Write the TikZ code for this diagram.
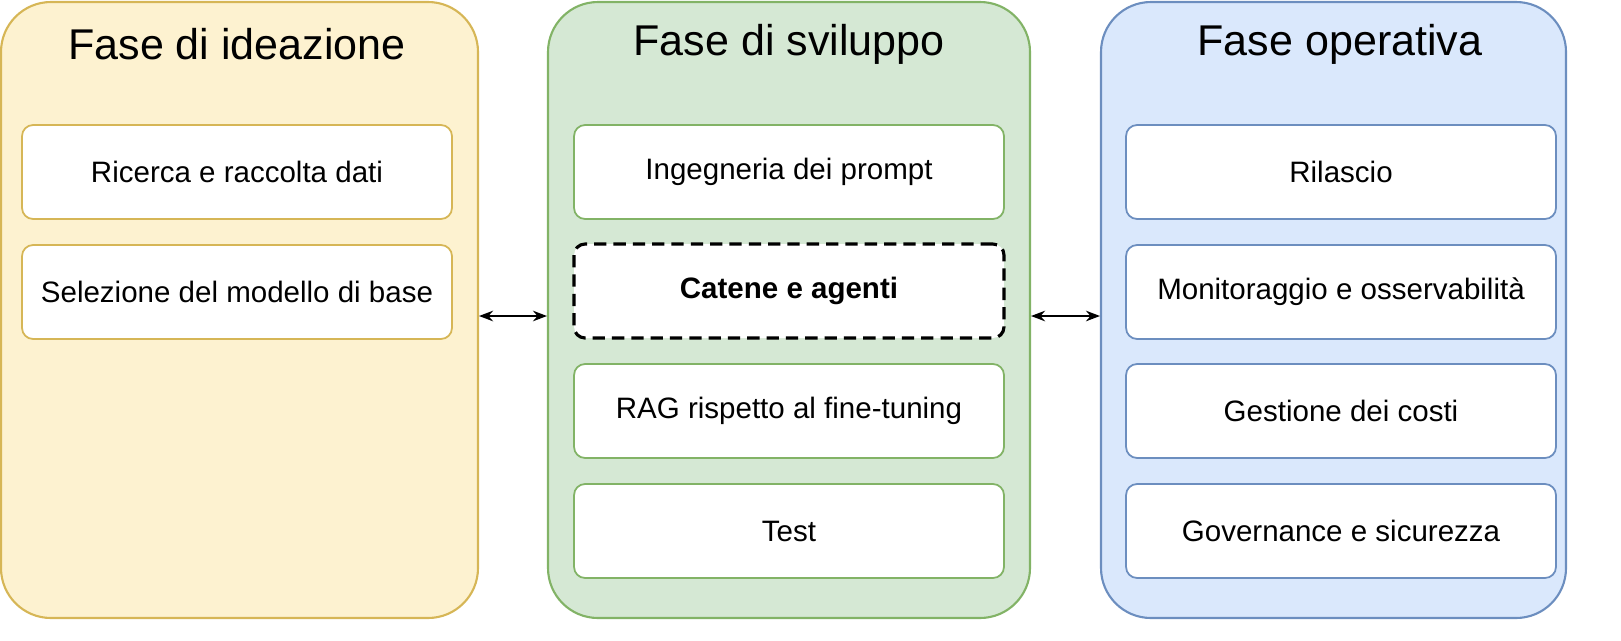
\documentclass[tikz,border=0pt]{standalone}
\usepackage{fontspec}
\setmainfont{Liberation Sans}
\usetikzlibrary{positioning,arrows.meta}
\definecolor{ideaFill}{HTML}{FDF2D0}
\definecolor{ideaLine}{HTML}{D6B656}
\definecolor{devFill}{HTML}{D5E8D4}
\definecolor{devLine}{HTML}{82B366}
\definecolor{opFill}{HTML}{DAE8FC}
\definecolor{opLine}{HTML}{6C8EBF}
\begin{document}
\begin{tikzpicture}[x=0.02cm,y=-0.02cm,
  phase/.style={draw=#1Line,fill=#1Fill,line width=1.2pt,rounded corners=1cm},
  title/.style={font=\fontsize{24.5}{28}\selectfont},
  step/.style={draw=#1Line,fill=white,line width=1pt,rounded corners=0.22cm,
    minimum width=8.6cm,minimum height=1.88cm,font=\fontsize{16.8}{20}\selectfont},
  link/.style={{Stealth[length=8pt]}-{Stealth[length=8pt]},line width=1.2pt}]
\useasboundingbox (0,0) rectangle (1621,640);
% phases
\draw[phase=idea] (1,2) rectangle (478,618);
\draw[phase=dev] (548,2) rectangle (1030,618);
\draw[phase=op] (1101,2) rectangle (1566,618);
\node[title] (tIdea) at (237,44) {Fase di ideazione};
\node[title] (tDev) at (789,44) {Fase di sviluppo};
\node[title] (tOp) at (1340,44) {Fase operativa};
% ideazione
\node[step=idea] (ricerca) at (237,172) {Ricerca e raccolta dati};
\node[step=idea] (modello) at (237,292) {Selezione del modello di base};
% sviluppo
\node[step=dev] (prompt) at (789,172) {Ingegneria dei prompt};
\node[step=dev,draw=black,dash pattern=on 7pt off 4pt,line width=1.8pt] (catene) at (789,291) {\textbf{Catene e agenti}};
\node[step=dev] (rag) at (789,411) {RAG rispetto al fine-tuning};
\node[step=dev] (test) at (789,531) {Test};
% operativa
\node[step=op] (rilascio) at (1341,172) {Rilascio};
\node[step=op] (monitor) at (1341,292) {Monitoraggio e osservabilità};
\node[step=op] (costi) at (1341,411) {Gestione dei costi};
\node[step=op] (gov) at (1341,531) {Governance e sicurezza};
% links
\coordinate (a1) at (479,316); \coordinate (a2) at (547,316);
\coordinate (b1) at (1031,316); \coordinate (b2) at (1100,316);
\draw[link] (a1) -- (a2);
\draw[link] (b1) -- (b2);
\end{tikzpicture}
\end{document}
